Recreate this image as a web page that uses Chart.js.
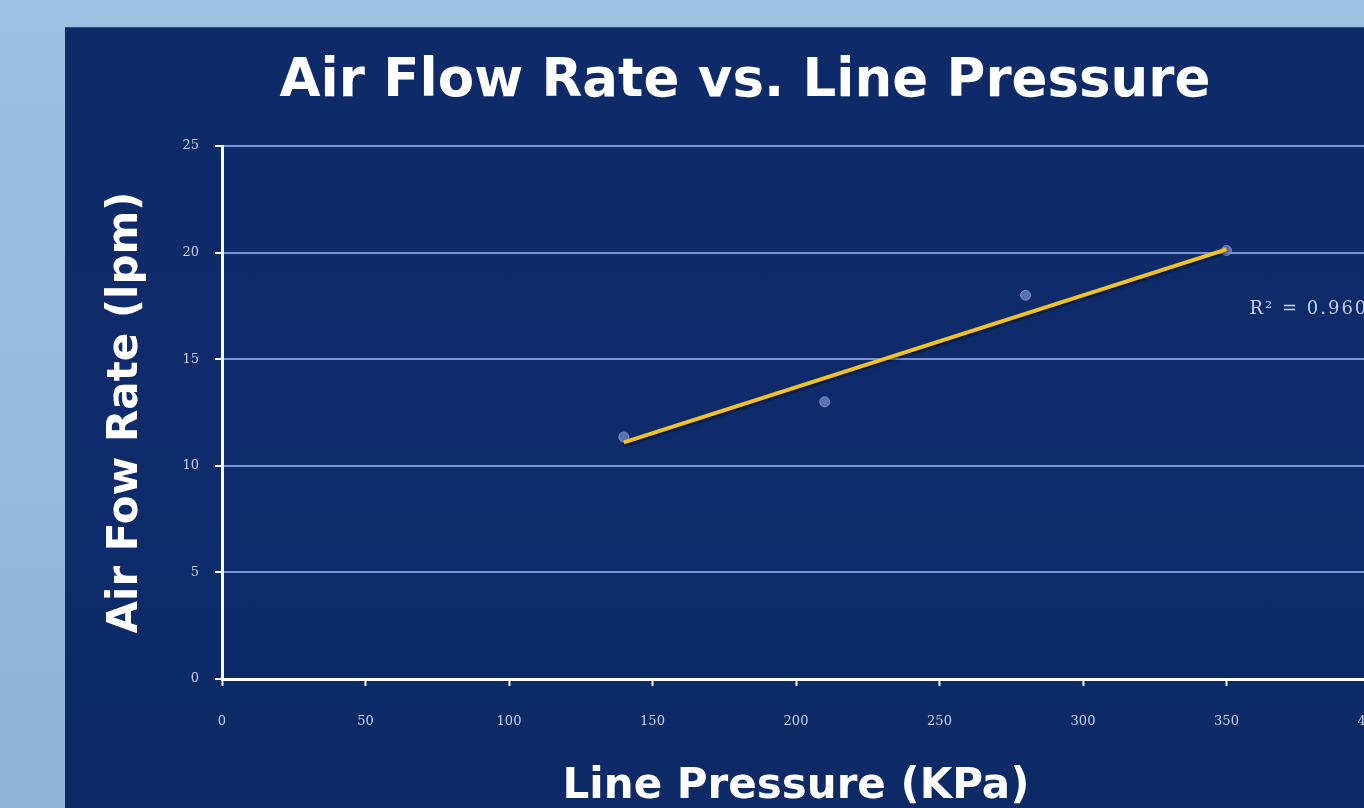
<!DOCTYPE html>
<html>
<head>
<meta charset="utf-8">
<script src="https://cdn.jsdelivr.net/npm/chart.js@4/dist/chart.umd.min.js"></script>
<style>
  html, body { margin: 0; padding: 0; width: 1364px; height: 808px; overflow: hidden;
    background: linear-gradient(180deg, #9cc0e0 0%, #8db4d8 100%); }
  #panel { position: absolute; left: 65px; top: 27px; width: 1360px; height: 800px;
    background: linear-gradient(180deg, #0f2a68 0%, #0e2b6b 60%, #0d2a66 100%);
    border-top: 1px solid #2e4e8e; }
</style>
</head>
<body>
<div id="panel"><canvas id="chart" width="1360" height="800"></canvas></div>
<script>
// measured points (KPa, lpm)
const pressure = [140, 210, 280, 350];
const flowRate = [11.35, 13.0, 18.0, 20.1];

// linear trendline ends
const trendX = [140, 350];
const trendY = [11.1, 20.15];

const xTicks = [0, 50, 100, 150, 200, 250, 300, 350, 400];
const yTicks = [0, 5, 10, 15, 20, 25];

const r2Label = 'R² = 0.9606';
const r2Pos = [358, 17.35];

const points = pressure.map((p, i) => ({x: p, y: flowRate[i]}));
const trend = trendX.map((p, i) => ({x: p, y: trendY[i]}));

// R² note + a soft shadow under the trendline
const r2Plugin = {
  id: 'r2note',
  beforeDatasetDraw(chart, args) {
    if (args.index !== 1) return;
    const ctx = chart.ctx;
    ctx.save();
    ctx.shadowColor = 'rgba(0,0,0,0.55)';
    ctx.shadowBlur = 3;
    ctx.shadowOffsetY = 2;
  },
  afterDatasetDraw(chart, args) {
    if (args.index === 1) chart.ctx.restore();
  },
  afterDatasetsDraw(chart) {
    const ctx = chart.ctx;
    const x = chart.scales.x.getPixelForValue(r2Pos[0]);
    const y = chart.scales.y.getPixelForValue(r2Pos[1]);
    ctx.save();
    ctx.font = '18px "DejaVu Serif"';
    ctx.letterSpacing = '2px';
    ctx.fillStyle = '#c3cfee';
    ctx.textBaseline = 'middle';
    ctx.fillText(r2Label, x, y);
    ctx.restore();
  }
};

new Chart(document.getElementById('chart').getContext('2d'), {
  type: 'scatter',
  data: {
    datasets: [
      {
        label: 'Air flow',
        data: points,
        pointRadius: 5,
        pointBackgroundColor: 'rgba(120,135,200,0.75)',
        pointBorderColor: 'rgba(140,155,215,0.8)',
        pointBorderWidth: 1,
        order: 2
      },
      {
        label: 'Linear trend',
        type: 'line',
        data: trend,
        borderColor: '#f2c31c',
        borderWidth: 4,
        pointRadius: 0,
        fill: false,
        order: 1
      }
    ]
  },
  options: {
    responsive: false,
    animation: false,
    layout: {padding: 0},
    plugins: {
      legend: {display: false},
      tooltip: {enabled: false},
      title: {
        display: true,
        text: 'Air Flow Rate vs. Line Pressure',
        color: '#ffffff',
        font: {family: '"DejaVu Sans"', size: 53, weight: 'bold', lineHeight: 1.2},
        padding: {top: 22.2, bottom: 32.2}
      }
    },
    scales: {
      x: {
        type: 'linear',
        min: 0,
        max: 400,
        afterBuildTicks: s => { s.ticks = xTicks.map(v => ({value: v})); },
        afterFit: s => { s.height = 149; },
        grid: {drawOnChartArea: false, drawTicks: true, tickLength: 7, tickColor: '#ffffff', tickWidth: 2},
        border: {color: '#ffffff', width: 3},
        ticks: {color: '#c6d0ec', padding: 28, font: {family: '"DejaVu Serif"', size: 13}},
        title: {
          display: true,
          text: 'Line Pressure (KPa)',
          color: '#ffffff',
          font: {family: '"DejaVu Sans"', size: 42, weight: 'bold', lineHeight: 1.2},
          padding: {top: 0, bottom: 16}
        }
      },
      y: {
        min: 0,
        max: 25,
        afterBuildTicks: s => { s.ticks = yTicks.map(v => ({value: v})); },
        afterFit: s => { s.width = 157; },
        grid: {color: '#7b95d2', lineWidth: 2, drawTicks: true, tickLength: 7, tickColor: '#ffffff', tickWidth: 2},
        border: {color: '#ffffff', width: 3},
        ticks: {color: '#c6d0ec', padding: 16, font: {family: '"DejaVu Serif"', size: 13}},
        title: {
          display: true,
          text: 'Air Fow Rate (lpm)',
          color: '#ffffff',
          font: {family: '"DejaVu Sans"', size: 42, weight: 'bold', lineHeight: 1.2},
          padding: {top: 36, bottom: 0}
        }
      },
      // empty right-hand strip so the plot stops where the reference's does
      yRight: {
        position: 'right',
        min: 0,
        max: 25,
        afterFit: s => { s.width = 55; },
        grid: {display: false},
        border: {display: false},
        ticks: {display: false}
      }
    }
  },
  plugins: [r2Plugin]
});
</script>
</body>
</html>
